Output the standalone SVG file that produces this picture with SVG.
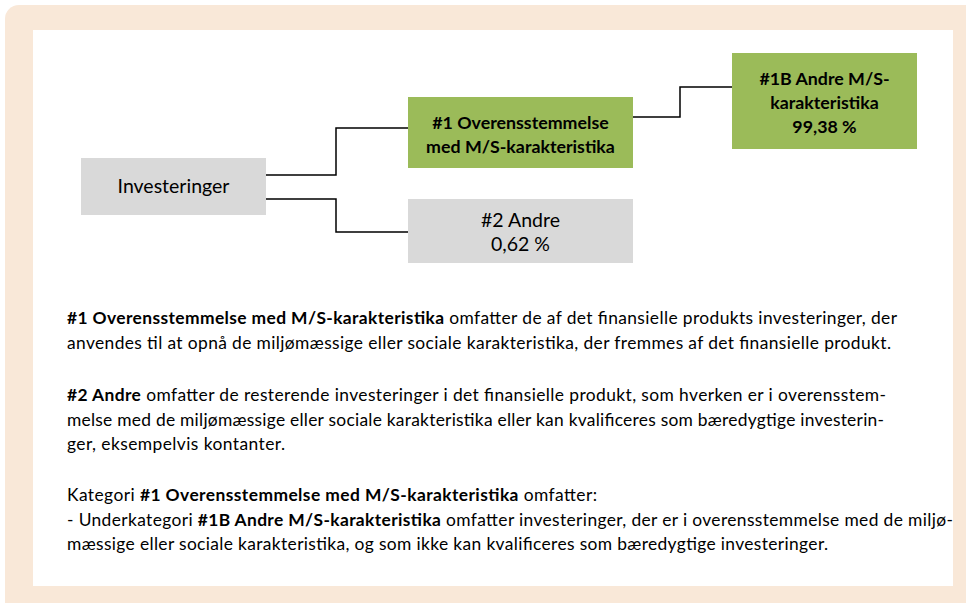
<svg xmlns="http://www.w3.org/2000/svg" width="966" height="603" viewBox="0 0 966 603">
<style>
text{font-family:Lato,"Open Sans","Liberation Sans",sans-serif;fill:#000}
.box{font-size:19.5px}
.bb{font-size:17.8px;font-weight:bold}
.p{font-size:17.4px}
.b{font-weight:bold}
.con{fill:none;stroke:#000;stroke-width:1.5}
</style>
<rect x="5" y="5" width="990" height="640" rx="14" fill="#F9E8D8"/>
<rect x="33" y="30" width="920" height="556" fill="#FFFFFF"/>
<g id="connectors">
<polyline class="con" points="266,175 336,175 336,128 408,128"/>
<polyline class="con" points="266,199 336,199 336,232 408,232"/>
<polyline class="con" points="633,117 680,117 680,87 732,87"/>
</g>
<g id="investeringer">
<rect x="81" y="158" width="185" height="57" fill="#D9D9D9"/>
<text class="box" x="173.5" y="193" text-anchor="middle">Investeringer</text>
</g>
<g id="n1">
<rect x="408" y="97" width="225" height="71" fill="#9BBB59"/>
<text class="bb" x="520.5" y="129" text-anchor="middle">#1 Overensstemmelse</text>
<text class="bb" x="520.5" y="153" text-anchor="middle">med M/S-karakteristika</text>
</g>
<g id="n1b">
<rect x="732" y="53" width="185" height="96" fill="#9BBB59"/>
<text class="bb" x="824.5" y="85" text-anchor="middle">#1B Andre M/S-</text>
<text class="bb" x="824.5" y="109" text-anchor="middle">karakteristika</text>
<text class="bb" x="824.5" y="133" text-anchor="middle">99,38 %</text>
</g>
<g id="n2">
<rect x="408" y="199" width="225" height="64" fill="#D9D9D9"/>
<text class="box" x="520.5" y="227" text-anchor="middle" font-size="17">#2 Andre</text>
<text class="box" x="520.5" y="251" text-anchor="middle" font-size="17">0,62 %</text>
</g>
<g id="description">
<text class="p" x="67" y="324" textLength="830" lengthAdjust="spacing"><tspan class="b">#1 Overensstemmelse med M/S-karakteristika</tspan> omfatter de af det finansielle produkts investeringer, der</text>
<text class="p" x="67" y="349" textLength="824" lengthAdjust="spacing">anvendes til at opnå de miljømæssige eller sociale karakteristika, der fremmes af det finansielle produkt.</text>
<text class="p" x="67" y="401" textLength="819" lengthAdjust="spacing"><tspan class="b">#2 Andre</tspan> omfatter de resterende investeringer i det finansielle produkt, som hverken er i overensstem-</text>
<text class="p" x="67" y="426" textLength="817" lengthAdjust="spacing">melse med de miljømæssige eller sociale karakteristika eller kan kvalificeres som bæredygtige investerin-</text>
<text class="p" x="67" y="450" textLength="218" lengthAdjust="spacing">ger, eksempelvis kontanter.</text>
<text class="p" x="67" y="501" textLength="530" lengthAdjust="spacing">Kategori <tspan class="b">#1 Overensstemmelse med M/S-karakteristika</tspan> omfatter:</text>
<text class="p" x="67" y="526" textLength="886" lengthAdjust="spacing">- Underkategori <tspan class="b">#1B Andre M/S-karakteristika</tspan> omfatter investeringer, der er i overensstemmelse med de miljø-</text>
<text class="p" x="67" y="550" textLength="761" lengthAdjust="spacing">mæssige eller sociale karakteristika, og som ikke kan kvalificeres som bæredygtige investeringer.</text>
</g>
</svg>
